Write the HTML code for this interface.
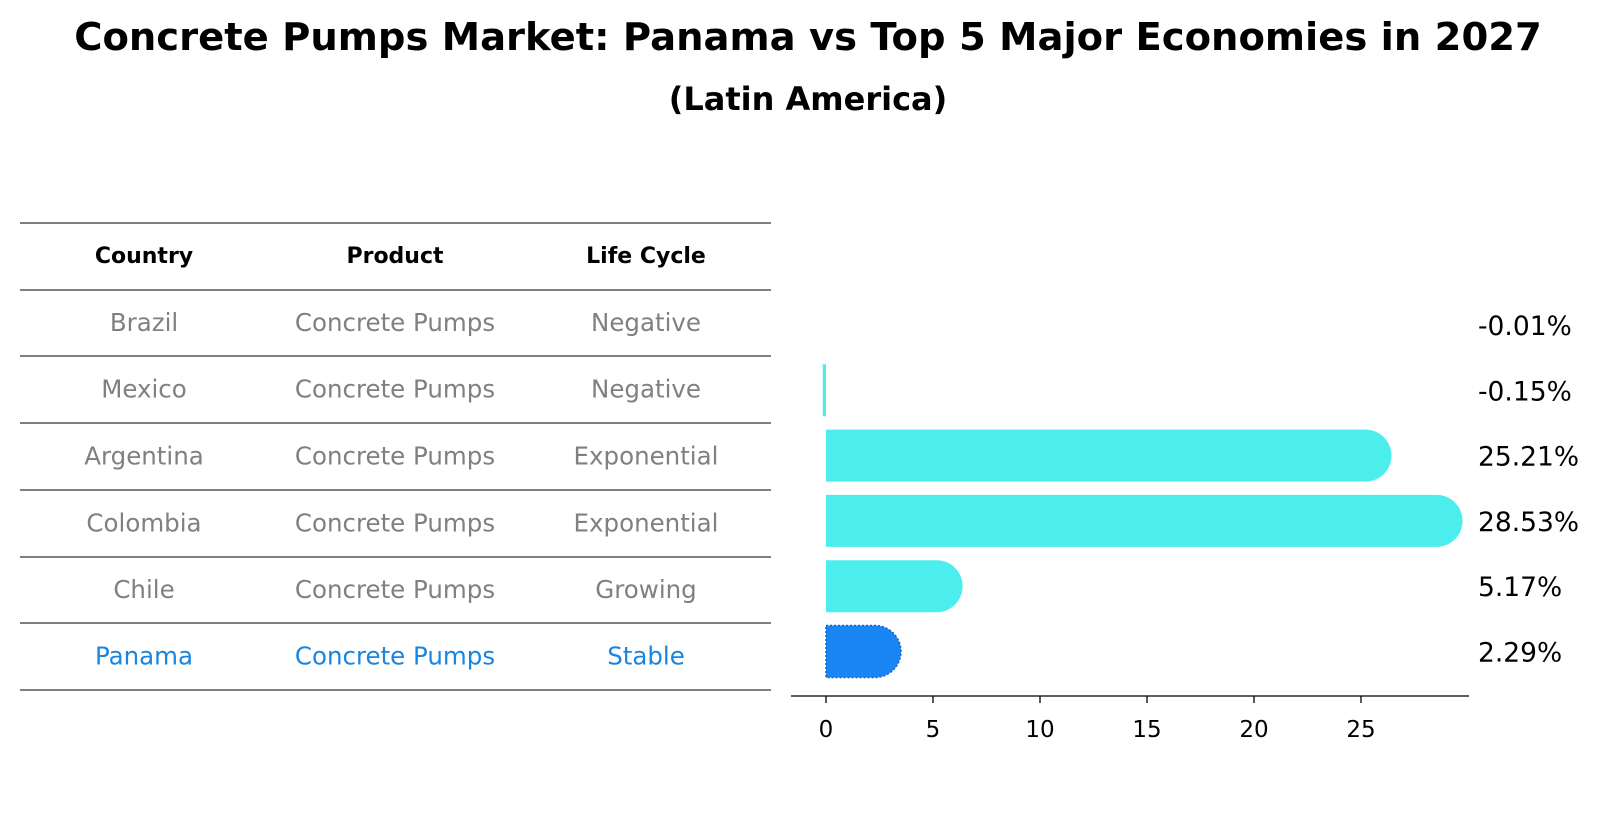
<!DOCTYPE html>
<html><head><meta charset="utf-8"><style>
body{margin:0;background:#fff;font-family:"DejaVu Sans","Liberation Sans",sans-serif;}
</style></head><body>
<svg width="1604" height="823" xmlns="http://www.w3.org/2000/svg" font-family="DejaVu Sans, Liberation Sans, sans-serif">
<text x="808" y="50" text-anchor="middle" font-size="38.5" font-weight="bold">Concrete Pumps Market: Panama vs Top 5 Major Economies in 2027</text>
<text x="808" y="110" text-anchor="middle" font-size="32" font-weight="bold">(Latin America)</text>
<g id="table"></g>
<g id="bars"></g>
</svg>
<script>
const countries=["Brazil","Mexico","Argentina","Colombia","Chile","Panama"];
const products=["Concrete Pumps","Concrete Pumps","Concrete Pumps","Concrete Pumps","Concrete Pumps","Concrete Pumps"];
const lifeCycles=["Negative","Negative","Exponential","Exponential","Growing","Stable"];
const values=[-0.01,-0.15,25.21,28.53,5.17,2.29];
const labels=["-0.01%","-0.15%","25.21%","28.53%","5.17%","2.29%"];
const ticks=[0,5,10,15,20,25];
const NS="http://www.w3.org/2000/svg";
function mk(t,a,p){const e=document.createElementNS(NS,t);for(const k in a)e.setAttribute(k,a[k]);p.appendChild(e);return e;}
const tb=document.getElementById('table');
const lineY=[223,290,356,423,490,557,623,690];
lineY.forEach(y=>{const l=mk('line',{x1:20,x2:771,y1:y,y2:y,stroke:'#000','stroke-width':1},tb);

});
const colX=[144,395,646];
["Country","Product","Life Cycle"].forEach((h,i)=>{const t=mk('text',{x:colX[i],y:263,'text-anchor':'middle','font-size':22,'font-weight':'bold'},tb);t.textContent=h;

});
countries.forEach((c,r)=>{const y=(lineY[r+1]+lineY[r+2])/2+8;const col=c==="Panama"?"#1a85e0":"#808080";
[c,products[r],lifeCycles[r]].forEach((v,i)=>{const t=mk('text',{x:colX[i],y:y,'text-anchor':'middle','font-size':24.5,fill:col},tb);t.textContent=v;

});});
const bg=document.getElementById('bars');
const x0=826,ppu=21.4;const X=v=>x0+v*ppu;
const Y=i=>325+i*65.3;const h=52;
mk('line',{x1:791,x2:1469,y1:696,y2:696,stroke:'#000','stroke-width':1.3},bg);
ticks.forEach(t=>{mk('line',{x1:X(t),x2:X(t),y1:696,y2:703,stroke:'#000','stroke-width':1.3},bg);
const tx=mk('text',{x:X(t),y:737,'text-anchor':'middle','font-size':23},bg);tx.textContent=t;

});
values.forEach((v,i)=>{const cy=Y(i);const pan=countries[i]==="Panama";const fill=pan?"#1a85f5":"#4beeec";
if(v>0){const xe=X(v),r=h/2;
const p=mk('path',{d:`M${x0},${cy-r} L${xe},${cy-r} A${r},${r} 0 0 1 ${xe},${cy+r} L${x0},${cy+r} Z`,fill:fill},bg);
if(pan){p.setAttribute('stroke','#1565c0');p.setAttribute('stroke-dasharray','2,2');p.setAttribute('stroke-width','1.5');}

}
else{const w=Math.max(Math.abs(v)*ppu,2);const p=mk('rect',{x:x0-w,y:cy-h/2,width:w,height:h,fill:fill},bg);
if(Math.abs(v)<0.05)p.setAttribute('opacity','0');

}
const t=mk('text',{x:1478,y:cy+10,'font-size':26.5},bg);t.textContent=labels[i];

});
</script>
</body></html>
